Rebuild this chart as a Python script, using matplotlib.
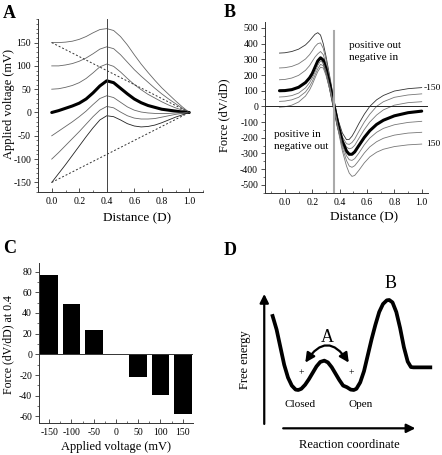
import numpy as np
import matplotlib.pyplot as plt
import matplotlib.transforms as mtransforms
from matplotlib.ticker import MultipleLocator
from matplotlib.patches import FancyArrowPatch

plt.rcParams['font.family'] = ['Liberation Serif', 'DejaVu Serif']
plt.rcParams['axes.unicode_minus'] = False

# --- A: voltage profiles across the membrane ---
volts = [150, 100, 50, 0, -50, -100, -150]
dist_a = [0.0, 0.05, 0.1, 0.15, 0.2, 0.25, 0.3, 0.35, 0.4, 0.45, 0.5,
          0.55, 0.6, 0.65, 0.7, 0.75, 0.8, 0.85, 0.9, 0.95, 1.0]
prof_p150 = [150, 150, 151, 153, 157, 163, 171, 178, 180, 176, 163, 145, 124, 104, 86, 69, 53, 39, 25, 12, 0]
prof_p100 = [100, 100, 102, 105, 110, 117, 126, 136, 141, 137, 124, 108, 92, 78, 65, 52, 40, 29, 19, 9, 0]
prof_p50 = [50, 51, 54, 58, 64, 73, 85, 98, 104, 99, 87, 73, 60, 49, 39, 31, 23, 16, 10, 5, 0]
prof_0 = [0, 4, 9, 14, 20, 29, 42, 57, 68, 64, 52, 40, 29, 21, 15, 11, 7, 5, 3, 1, 0]
prof_m50 = [-50, -40, -30, -20, -9, 3, 17, 30, 36, 32, 22, 12, 5, 1, -1, -2, -2, -2, -1, -1, 0]
prof_m100 = [-100, -86, -71, -56, -41, -25, -9, 5, 13, 10, 1, -7, -12, -14, -14, -13, -10, -7, -4, -2, 0]
prof_m150 = [-150, -131, -112, -92, -72, -52, -33, -16, -7, -9, -16, -24, -29, -31, -30, -27, -22, -16, -10, -5, 0]
linear_x = [0.0, 1.0]
linear_hi = [150, 0]
linear_lo = [-150, 0]

# --- B: force (dV/dD) ---
dist_b = [-0.04, 0.0, 0.05, 0.1, 0.15, 0.18, 0.2, 0.22, 0.24, 0.26, 0.28, 0.3, 0.33, 0.36,
          0.39, 0.42, 0.45, 0.47, 0.49, 0.51, 0.54, 0.58, 0.62, 0.67, 0.72, 0.8, 0.9, 1.0]
force_m150 = [340, 342, 350, 365, 392, 418, 440, 460, 470, 455, 400, 320, 180, 30,
              -90, -170, -212, -210, -190, -160, -110, -50, 0, 42, 70, 98, 113, 120]
force_m100 = [245, 247, 255, 272, 302, 330, 355, 382, 400, 405, 370, 300, 165, 20,
              -105, -195, -238, -242, -230, -208, -160, -100, -50, 0, 30, 58, 73, 80]
force_m50 = [170, 172, 181, 198, 230, 260, 288, 315, 335, 350, 330, 270, 150, 10,
             -115, -210, -260, -270, -265, -248, -205, -148, -100, -55, -22, 8, 24, 30]
force_0 = [100, 101, 107, 122, 152, 182, 210, 250, 290, 310, 295, 240, 130, 0,
           -125, -225, -285, -305, -305, -290, -250, -198, -155, -115, -88, -60, -40, -30]
force_p50 = [60, 62, 69, 85, 118, 152, 182, 220, 262, 290, 278, 225, 120, -8,
             -135, -245, -315, -340, -344, -333, -298, -245, -202, -165, -140, -117, -102, -95]
force_p100 = [32, 34, 42, 58, 92, 128, 160, 200, 240, 268, 260, 210, 110, -15,
              -145, -265, -345, -380, -388, -378, -345, -297, -258, -225, -203, -183, -170, -165]
force_p150 = [-5, -2, 8, 28, 66, 105, 140, 182, 222, 250, 245, 198, 100, -22,
              -155, -285, -380, -425, -446, -440, -408, -360, -322, -292, -273, -256, -245, -240]

# --- C: force at D = 0.4 ---
bar_volts = [-150, -100, -50, 50, 100, 150]
bar_force = [77, 49, 24, -22, -39, -58]

# --- D: free energy schematic ---
react = [0.119, 0.14, 0.16, 0.18, 0.2, 0.22, 0.24, 0.254, 0.27, 0.29, 0.31, 0.33, 0.35, 0.37,
         0.391, 0.41, 0.43, 0.45, 0.47, 0.49, 0.51, 0.53, 0.546, 0.56, 0.58, 0.6, 0.62, 0.64,
         0.66, 0.68, 0.7, 0.72, 0.733, 0.75, 0.77, 0.79, 0.81, 0.83, 0.847, 0.86, 0.9, 0.949]
energy = [0.775, 0.69, 0.58, 0.47, 0.39, 0.34, 0.315, 0.3125, 0.32, 0.345, 0.38, 0.42, 0.46, 0.488,
          0.496, 0.485, 0.455, 0.415, 0.375, 0.34, 0.33, 0.315, 0.3125, 0.32, 0.36, 0.43, 0.53, 0.63,
          0.72, 0.8, 0.85, 0.873, 0.875, 0.86, 0.8, 0.7, 0.58, 0.49, 0.456, 0.454, 0.454, 0.454]

fig = plt.figure(figsize=(4.42, 4.55), dpi=100)


def style(ax):
    for s in ['top', 'right']:
        ax.spines[s].set_visible(False)
    for s in ['left', 'bottom']:
        ax.spines[s].set_linewidth(0.7)
        ax.spines[s].set_color('#333333')
    ax.tick_params(which='major', labelsize=7, width=0.6, length=3, color='#333333', pad=2)
    ax.tick_params(which='minor', width=0.5, length=1.8, color='#333333')
    ax.tick_params(axis='x', which='both', direction='in', pad=4)


# Panel A
axA = fig.add_axes([38 / 442, 1 - 191.7 / 455, 165 / 442, 172.4 / 455])
curves_a = [prof_p150, prof_p100, prof_p50, prof_0, prof_m50, prof_m100, prof_m150]
for v, ys in zip(volts, curves_a):
    if v == 0:
        axA.plot(dist_a, ys, color='black', lw=2.2, solid_capstyle='round')
    else:
        axA.plot(dist_a, ys, color='#222222' if v == -150 else '#666666', lw=0.6)
axA.plot(linear_x, linear_hi, color='#333333', lw=0.7, ls=(0, (2, 2)))
axA.plot(linear_x, linear_lo, color='#333333', lw=0.7, ls=(0, (2, 2)))
axA.axvline(0.4, color='#444444', lw=0.7)
axA.set_xlim(-0.1, 1.1)
axA.set_ylim(-170, 200)
axA.set_xticks([0.0, 0.2, 0.4, 0.6, 0.8, 1.0])
axA.set_xticklabels(['0.0', '0.2', '0.4', '0.6', '0.8', '1.0'])
axA.xaxis.set_minor_locator(MultipleLocator(0.1))
axA.set_yticks([-150, -100, -50, 0, 50, 100, 150])
axA.yaxis.set_minor_locator(MultipleLocator(10))
style(axA)
axA.set_xlabel('Distance (D)', fontsize=9.5)
axA.xaxis.set_label_coords(0.6, -0.12)
axA.set_ylabel('Applied voltage (mV)', fontsize=9)
axA.yaxis.set_label_coords(-0.14, 0.51)

# Panel B
axB = fig.add_axes([265 / 442, 1 - 192.7 / 455, 163 / 442, 171 / 455])
curves_b = [force_m150, force_m100, force_m50, force_0, force_p50, force_p100, force_p150]
for v, ys in zip(volts[::-1], curves_b):
    if v == 0:
        axB.plot(dist_b, ys, color='black', lw=2.2, solid_capstyle='round')
    else:
        axB.plot(dist_b, ys, color='#333333' if v == -150 else '#777777', lw=0.6)
axB.axhline(0, color='#222222', lw=0.7)
axB.axvline(0.36, ymax=(480 + 550) / 1090, color='#aaaaaa', lw=1.5)
axB.set_xlim(-0.146, 1.046)
axB.set_ylim(-550, 540)
axB.set_xticks([0.0, 0.2, 0.4, 0.6, 0.8, 1.0])
axB.set_xticklabels(['0.0', '0.2', '0.4', '0.6', '0.8', '1.0'])
axB.xaxis.set_minor_locator(MultipleLocator(0.1))
axB.set_yticks(list(range(-500, 501, 100)))
axB.yaxis.set_minor_locator(MultipleLocator(50))
style(axB)
axB.set_xlabel('Distance (D)', fontsize=9.5)
axB.xaxis.set_label_coords(0.61, -0.11)
axB.set_ylabel('Force (dV/dD)', fontsize=9)
axB.yaxis.set_label_coords(-0.21, 0.45)
axB.text(0.47, 389, 'positive out', fontsize=8, va='center')
axB.text(0.47, 314, 'negative in', fontsize=8, va='center')
axB.text(-0.08, -180, 'positive in', fontsize=8, va='center')
axB.text(-0.08, -253, 'negative out', fontsize=8, va='center')
edge = mtransforms.blended_transform_factory(fig.transFigure, axB.transData)
axB.text(0.997, force_m150[-1], '-150', fontsize=6.8, ha='right', va='center',
         transform=edge, clip_on=False)
axB.text(0.997, force_p150[-1], '150', fontsize=6.8, ha='right', va='center',
         transform=edge, clip_on=False)

# Panel C
axC = fig.add_axes([39 / 442, 1 - 422.7 / 455, 154.3 / 442, 159.4 / 455])
axC.bar(bar_volts, bar_force, width=40, color='black')
axC.axhline(0, color='#333333', lw=0.7)
axC.set_xlim(-173, 174)
axC.set_ylim(-66, 88)
axC.set_xticks([-150, -100, -50, 0, 50, 100, 150])
axC.xaxis.set_minor_locator(MultipleLocator(25))
axC.set_yticks([-60, -40, -20, 0, 20, 40, 60, 80])
axC.yaxis.set_minor_locator(MultipleLocator(10))
style(axC)
axC.set_xlabel('Applied voltage (mV)', fontsize=9)
axC.xaxis.set_label_coords(0.5, -0.115)
axC.set_ylabel('Force (dV/dD) at 0.4', fontsize=8.5)
axC.yaxis.set_label_coords(-0.16, 0.49)

# Panel D
axD = fig.add_axes([250 / 442, 1 - 440 / 455, 190 / 442, 160 / 455])
axD.set_xlim(0, 1)
axD.set_ylim(0, 1)
axD.axis('off')
axD.annotate('', xy=(0.075, 0.93), xytext=(0.075, 0.083),
             arrowprops=dict(arrowstyle='-|>', lw=1.6, color='black', mutation_scale=13))
axD.annotate('', xy=(0.885, 0.073), xytext=(0.16, 0.073),
             arrowprops=dict(arrowstyle='-|>', lw=1.6, color='black', mutation_scale=13))
axD.plot(react, energy, color='black', lw=2.7, solid_joinstyle='round')
arc = FancyArrowPatch((0.283, 0.469), (0.528, 0.469), arrowstyle='<|-|>',
                      connectionstyle='arc3,rad=-0.8', mutation_scale=14, lw=1.6, color='black')
axD.add_patch(arc)
axD.text(0.405, 0.64, 'A', fontsize=13, ha='center', va='center')
axD.text(0.738, 0.975, 'B', fontsize=13, ha='center', va='center', clip_on=False)
axD.text(0.268, 0.42, '+', fontsize=7, ha='center', va='center')
axD.text(0.532, 0.42, '+', fontsize=7, ha='center', va='center')
axD.text(0.263, 0.223, 'Closed', fontsize=8, ha='center', va='center')
axD.text(0.584, 0.223, 'Open', fontsize=8, ha='center', va='center')
axD.text(-0.026, 0.5, 'Free energy', fontsize=9, rotation=90, ha='center', va='center')
axD.text(0.523, -0.031, 'Reaction coordinate', fontsize=9, ha='center', va='center')

# panel letters
for lbl, x, y in [('A', 3, 18.3), ('B', 224, 16.7), ('C', 3, 253), ('D', 224, 255)]:
    fig.text(x / 442, 1 - y / 455, lbl, fontsize=13, fontweight='bold', va='baseline')

fig.savefig('out.png', dpi=100)
